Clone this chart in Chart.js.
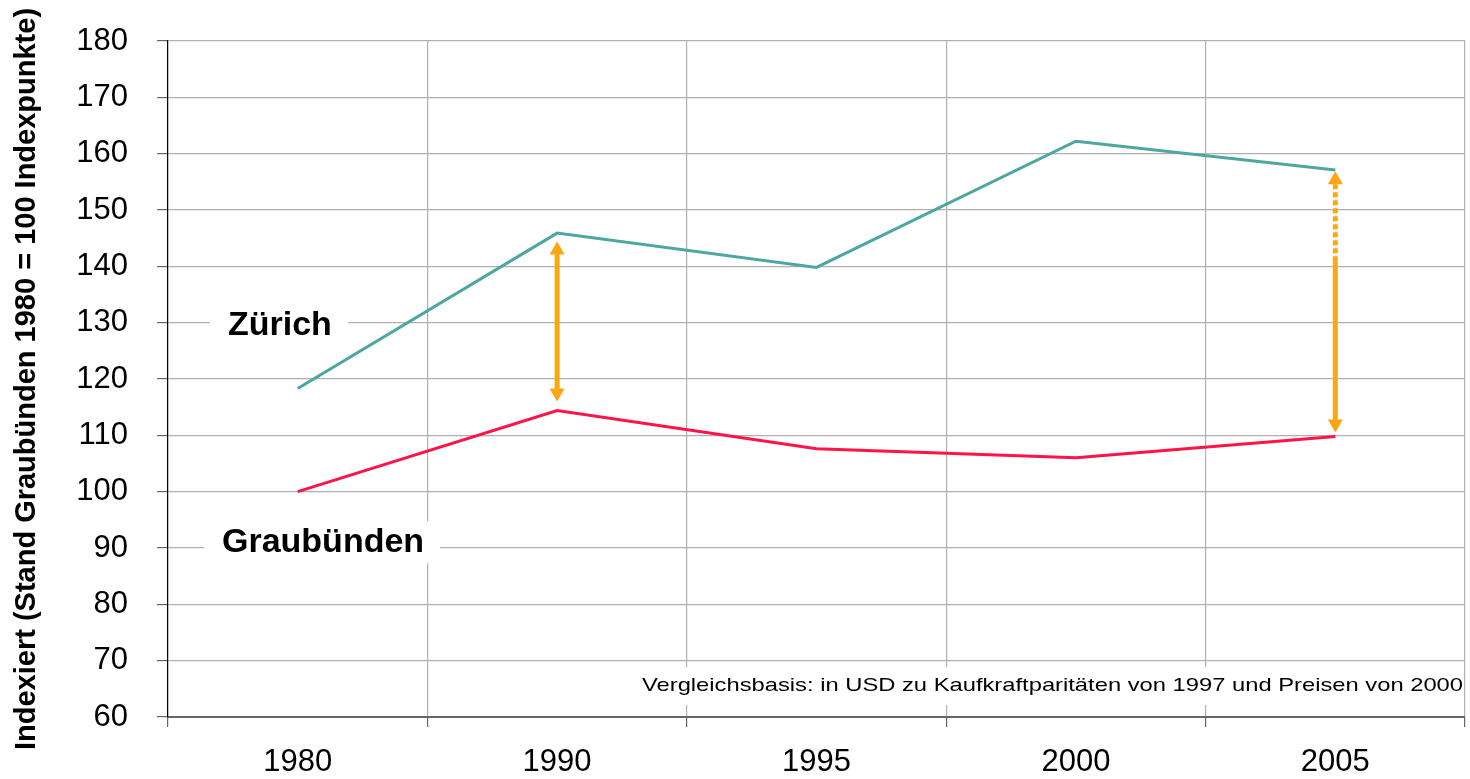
<!DOCTYPE html>
<html>
<head>
<meta charset="utf-8">
<script src="https://cdn.jsdelivr.net/npm/chart.js@4"></script>
<style>
    html, body { margin: 0; padding: 0; background: #fff; }
    #wrap { width: 1470px; height: 779px; }
</style>
</head>
<body>
<div id="wrap"><canvas id="indexChart" width="1470" height="779"></canvas></div>
<script>
// Jahre und Indexwerte (Graubünden 1980 = 100)
const years = ['1980', '1990', '1995', '2000', '2005'];
const zuerich = [118.3, 145.9, 139.8, 162.2, 157.1];
const graubuenden = [100, 114.4, 107.6, 106, 109.8];

// Pfeile: Jahr, Start, Ende, gestrichelter Teil (null = keiner)
const arrowYears = ['1990', '2005'];
const arrowFrom = [116, 110.5];
const arrowTo = [144.4, 140.9];
const arrowDottedTo = [null, 156.9];

// Beschriftungen im Diagramm
const labelTexts = ['Zürich', 'Graubünden'];
const labelValues = [129.4, 91.0];
const noteText = 'Vergleichsbasis: in USD zu Kaufkraftparitäten von 1997 und Preisen von 2000';
const noteValue = 65.5;

const ORANGE = '#FFA50F';
const FONT = "'Liberation Sans', Arial, sans-serif";

function drawArrowHead(ctx, x, y, dir) {
    // dir = -1 nach oben, +1 nach unten
    ctx.beginPath();
    ctx.moveTo(x, y);
    ctx.lineTo(x - 7.5, y - dir * 13);
    ctx.lineTo(x + 7.5, y - dir * 13);
    ctx.closePath();
    ctx.fill();
}

const annotations = {
    id: 'annotations',
    beforeDatasetsDraw(chart) {
        const ctx = chart.ctx;
        const area = chart.chartArea;
        const y = chart.scales.y;
        ctx.save();
        ctx.textBaseline = 'middle';

        // Ortsbezeichnungen mit weissem Hintergrund
        ctx.font = 'bold 34px ' + FONT;
        labelTexts.forEach((t, i) => {
            const py = y.getPixelForValue(labelValues[i]);
            const w = ctx.measureText(t).width;
            const lx = i === 0 ? area.left + 60 : area.left + 54;
            ctx.fillStyle = '#fff';
            ctx.fillRect(lx - 18, py - 21, w + 34, 42);
            ctx.fillStyle = '#000';
            ctx.fillText(t, lx, py);
        });

        // Fussnote (etwas breiter gezogen wie im Original)
        ctx.font = '19px ' + FONT;
        const ny = y.getPixelForValue(noteValue);
        const nw = ctx.measureText(noteText).width;
        const stretch = 821 / nw;
        ctx.fillStyle = '#fff';
        ctx.fillRect(area.right - nw * stretch - 6, ny - 19, nw * stretch + 4, 38);
        ctx.translate(area.right - 2, ny);
        ctx.scale(stretch, 1);
        ctx.fillStyle = '#000';
        ctx.textAlign = 'right';
        ctx.fillText(noteText, 0, 0);
        ctx.restore();
    },
    afterDatasetsDraw(chart) {
        const ctx = chart.ctx;
        const x = chart.scales.x;
        const y = chart.scales.y;
        ctx.save();
        ctx.strokeStyle = ORANGE;
        ctx.fillStyle = ORANGE;
        ctx.lineWidth = 5;
        arrowYears.forEach((yr, i) => {
            const px = x.getPixelForValue(years.indexOf(yr));
            const yBottom = y.getPixelForValue(arrowFrom[i]);
            const ySolidTop = y.getPixelForValue(arrowTo[i]);
            const yTop = arrowDottedTo[i] === null ? ySolidTop : y.getPixelForValue(arrowDottedTo[i]);
            ctx.setLineDash([]);
            ctx.beginPath();
            ctx.moveTo(px, yBottom - 12);
            ctx.lineTo(px, arrowDottedTo[i] === null ? ySolidTop + 12 : ySolidTop);
            ctx.stroke();
            if (arrowDottedTo[i] !== null) {
                ctx.setLineDash([5, 3]);
                ctx.beginPath();
                ctx.moveTo(px, ySolidTop);
                ctx.lineTo(px, yTop + 12);
                ctx.stroke();
                ctx.setLineDash([]);
            }
            drawArrowHead(ctx, px, yTop, -1);
            drawArrowHead(ctx, px, yBottom, 1);
        });
        ctx.restore();
    }
};

new Chart(document.getElementById('indexChart'), {
    type: 'line',
    data: {
        labels: years,
        datasets: [{
            label: 'Zürich',
            data: zuerich,
            borderColor: '#4DA6A0',
            borderWidth: 3,
            pointRadius: 0,
            tension: 0
        }, {
            label: 'Graubünden',
            data: graubuenden,
            borderColor: '#FF1448',
            borderWidth: 3,
            pointRadius: 0,
            tension: 0
        }]
    },
    options: {
        responsive: false,
        animation: false,
        layout: { padding: { top: 41, right: 5, left: 0, bottom: 0 } },
        plugins: {
            legend: { display: false },
            tooltip: { enabled: false }
        },
        scales: {
            x: {
                offset: true,
                grid: {
                    offset: true,
                    color: '#b0b0b0',
                    lineWidth: 1.2,
                    tickLength: 10,
                    tickColor: '#666'
                },
                border: { color: '#666', width: 2 },
                ticks: {
                    color: '#000',
                    font: { family: FONT, size: 31 },
                    padding: 17,
                    maxRotation: 0
                },
                afterFit(scale) { scale.height = 62; }
            },
            y: {
                min: 60,
                max: 180,
                grid: {
                    color: '#b0b0b0',
                    lineWidth: 1.2,
                    tickLength: 11,
                    tickColor: '#666'
                },
                border: { color: '#000', width: 1.2 },
                ticks: {
                    stepSize: 10,
                    color: '#000',
                    font: { family: FONT, size: 31 },
                    padding: 29
                },
                title: {
                    display: true,
                    text: 'Indexiert (Stand Graubünden 1980 = 100 Indexpunkte)',
                    color: '#000',
                    font: { family: FONT, size: 29, weight: 'bold' },
                    padding: { top: 10, bottom: 0 }
                },
                afterFit(scale) {
                    scale.width = 168;
                    // Beschriftungsabstand nicht als Rand oben/unten verrechnen
                    scale.paddingTop = 0;
                    scale.paddingBottom = 0;
                }
            }
        }
    },
    plugins: [annotations]
});
</script>
</body>
</html>
